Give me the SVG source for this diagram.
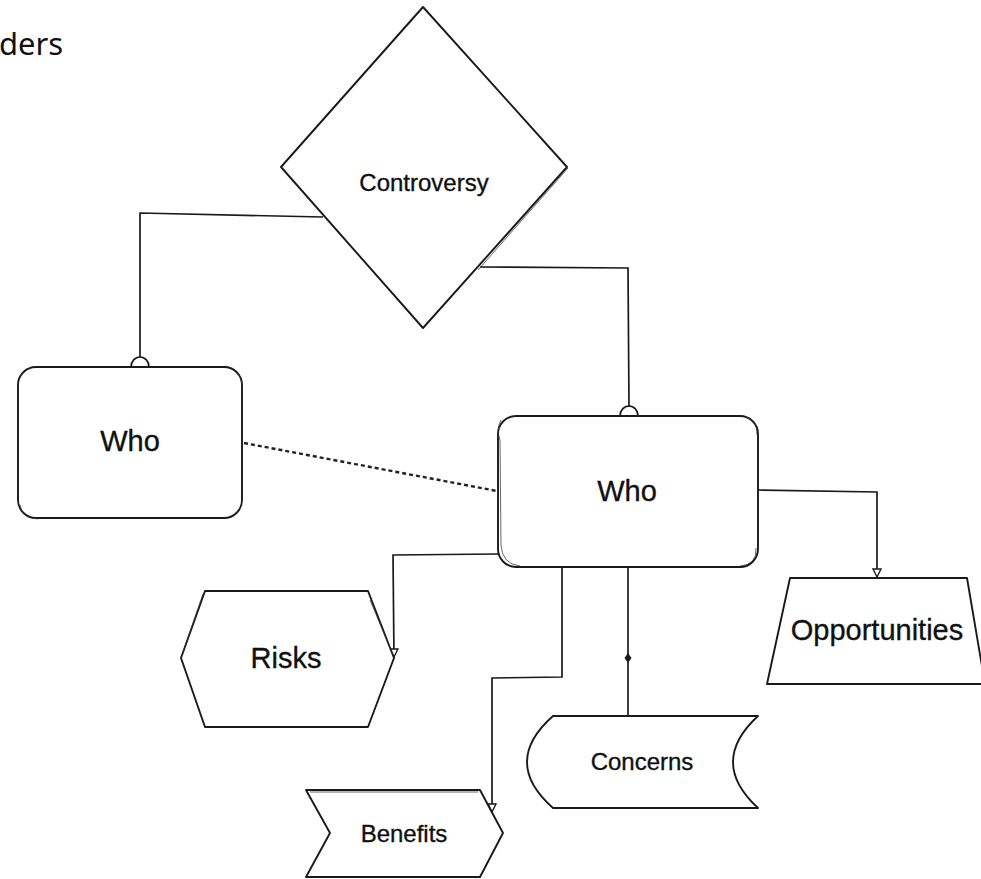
<svg xmlns="http://www.w3.org/2000/svg" width="981" height="879" viewBox="0 0 981 879">
<style>
.shape{fill:#fff;stroke:#1a1a1a;stroke-width:1.9;stroke-linejoin:round}
.sk{fill:none;stroke:#333;stroke-width:1;opacity:0.75}
.lbl{font-family:"Liberation Sans",Arial,sans-serif;fill:#111;stroke:#111;stroke-width:0.35;text-anchor:middle}
.conn{fill:none;stroke:#1a1a1a;stroke-width:1.7}
.dash{fill:none;stroke:#222;stroke-width:2.4;stroke-dasharray:4 3}
</style>
<defs>
<marker id="arr" markerWidth="12" markerHeight="12" refX="9" refY="5" orient="auto" markerUnits="userSpaceOnUse">
<path d="M1,1 L9,5 L1,9 Z" fill="#fff" stroke="#1a1a1a" stroke-width="1.4"/>
</marker>
</defs>
<rect width="981" height="879" fill="#fff"/>
<text x="-1" y="55" style="font-family:'Noto Sans','Open Sans',sans-serif;font-size:31px;fill:#111">ders</text>

<g id="connectors">
<path class="conn" d="M323,217 L140,213 L140,357"/>
<path class="conn" d="M131,367 A9,10 0 0 1 149,367"/>
<path class="conn" d="M480,267 L628,268 L629,407"/>
<path class="conn" d="M620,416 A9,10 0 0 1 638,416"/>
<path class="dash" d="M244,443 L497,491"/>
<path class="conn" d="M758,490 L877,492 L877,577" marker-end="url(#arr)"/>
<path class="conn" d="M498,554 L393,555 L394,657" marker-end="url(#arr)"/>
<path class="conn" d="M562,567 L562,677 L492,678 L492,812" marker-end="url(#arr)"/>
<path class="conn" d="M628,567 L628,716"/>
<path d="M628,653 L631.5,658 L628,663 L624.5,658 Z" fill="#1a1a1a"/>
</g>

<g id="controversy">
<path class="shape" d="M423,7 L567,167 L423,328 L281,167 Z"/>
<path class="sk" d="M568,168 L478,270"/>
<text class="lbl" x="424" y="191" style="font-size:24px">Controversy</text>
</g>

<g id="who-left">
<rect class="shape" x="18" y="367" width="224" height="151" rx="18"/>
<path class="sk" d="M20,505 Q22,518 38,519 M225,366 Q241,368 242,385"/>
<text class="lbl" x="130" y="451" style="font-size:29px">Who</text>
</g>

<g id="who-right">
<rect class="shape" x="498" y="416" width="260" height="151" rx="18"/>
<path class="sk" d="M501,420 Q496,430 500,440 L501,545 Q502,564 520,566 M745,417 Q758,420 757,435 M756,548 Q757,565 740,566"/>
<text class="lbl" x="627" y="501" style="font-size:29px">Who</text>
</g>

<g id="opportunities">
<path class="shape" d="M790,578 L967,578 L985,684 L767,684 Z"/>
<text class="lbl" x="877" y="640" style="font-size:29px">Opportunities</text>
</g>

<g id="risks">
<path class="shape" d="M205,591 L368,591 L394,658 L368,727 L205,727 L181,658 Z"/>
<path class="sk" d="M203,594 L183,652 M370,600 L393,655"/>
<text class="lbl" x="286" y="668" style="font-size:29px">Risks</text>
</g>

<g id="benefits">
<path class="shape" d="M306,790 L480,790 L503,833 L480,877 L306,877 L330,833 Z"/>
<path class="sk" d="M310,792 L478,792"/>
<text class="lbl" x="404" y="842" style="font-size:24px">Benefits</text>
</g>

<g id="concerns">
<path class="shape" d="M553,716 L758,716 Q708,762 758,808 L553,808 Q501,762 553,716 Z"/>
<text class="lbl" x="642" y="770" style="font-size:24px">Concerns</text>
</g>
</svg>
